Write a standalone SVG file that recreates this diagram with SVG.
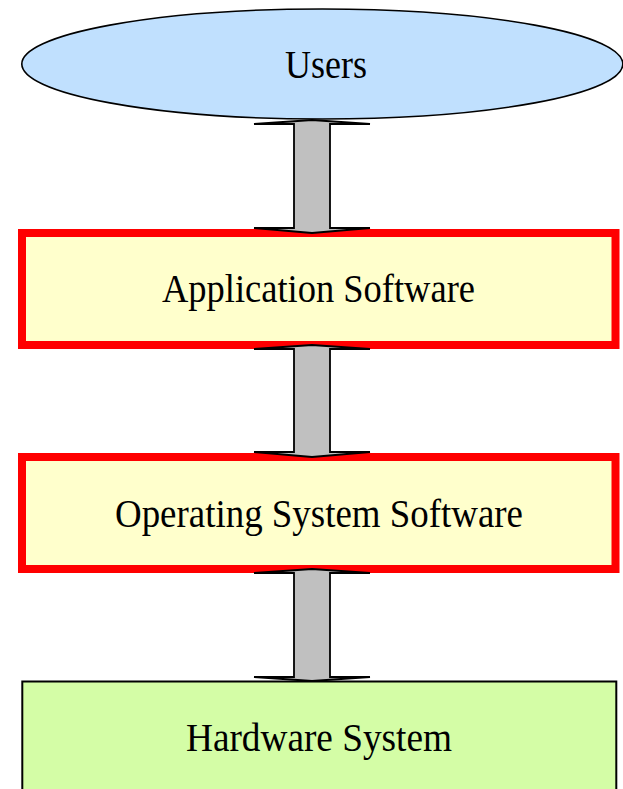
<svg xmlns="http://www.w3.org/2000/svg" width="623" height="789" viewBox="0 0 623 789">
<style>
.lbl{font-family:"Liberation Serif","Times New Roman",serif;font-size:39px;fill:#000;text-anchor:middle}
.sw{fill:#ffffcc;stroke:#ff0000;stroke-width:8}
.arr{fill:#c0c0c0;stroke:#000;stroke-width:1.8;stroke-linejoin:miter}
</style>
<rect width="623" height="789" fill="#fff"/>
<g id="users">
<ellipse cx="322.3" cy="64" rx="300.5" ry="55" fill="#c0e0fe" stroke="#000" stroke-width="1.6"/>
<text class="lbl" x="326" y="78" textLength="82" lengthAdjust="spacingAndGlyphs">Users</text>
</g>
<g id="app">
<rect class="sw" x="22" y="233" width="593.5" height="112"/>
<text class="lbl" x="318.5" y="302" textLength="313" lengthAdjust="spacingAndGlyphs">Application Software</text>
</g>
<g id="os">
<rect class="sw" x="22" y="457" width="593.5" height="112"/>
<text class="lbl" x="319" y="527" textLength="408" lengthAdjust="spacingAndGlyphs">Operating System Software</text>
</g>
<g id="hw">
<rect x="22.3" y="681.5" width="594" height="120" fill="#d4fda6" stroke="#000" stroke-width="2"/>
<text class="lbl" x="319" y="751" textLength="266" lengthAdjust="spacingAndGlyphs">Hardware System</text>
</g>
<g id="connectors">
<polygon class="arr" points="312,120 370,124 330,124 330,228 370,228 312,233 254,228 294,228 294,124 254,124"/>
<polygon class="arr" points="312,345 370,349 330,349 330,452 370,452 312,457 254,452 294,452 294,349 254,349"/>
<polygon class="arr" points="312,569 370,573 330,573 330,677 370,677 312,681 254,677 294,677 294,573 254,573"/>
</g>
</svg>
